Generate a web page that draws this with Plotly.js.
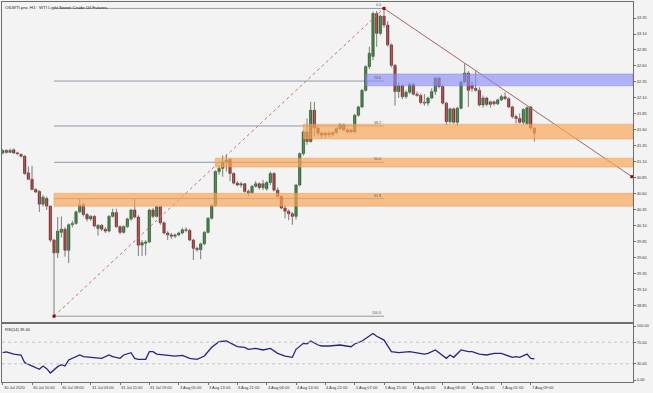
<!DOCTYPE html>
<html><head><meta charset="utf-8">
<script src="https://cdn.plot.ly/plotly-3.0.1.min.js"></script>
<style>html,body{margin:0;padding:0;background:#f3f3f3;}#chart{width:653px;height:393px;}</style>
</head><body><div id="chart"></div>
<script>
// ---- data ----
const openP = [41.24,41.28,41.25,41.29,41.24,41.22,41.19,40.93,40.83,40.67,40.64,40.44,40.53,40.41,39.88,39.68,40.00,40.05,39.72,40.12,40.14,40.32,40.43,40.28,40.21,40.25,40.06,40.11,40.05,40.02,40.25,40.31,40.09,40.00,40.09,40.21,40.35,40.24,39.80,39.83,39.85,40.35,40.25,40.40,40.15,39.99,39.96,39.94,39.96,39.99,40.04,40.03,39.88,39.75,39.73,39.82,40.00,40.22,40.42,40.95,41.00,41.10,41.14,40.92,40.77,40.74,40.76,40.64,40.62,40.72,40.76,40.70,40.68,40.78,40.92,40.66,40.56,40.38,40.33,40.29,40.25,40.74,41.23,41.57,41.42,41.91,41.63,41.55,41.52,41.55,41.53,41.56,41.62,41.68,41.60,41.60,41.57,41.83,41.96,42.22,42.59,42.75,43.42,43.11,43.38,43.24,42.93,42.61,42.20,42.29,42.12,42.19,42.31,42.16,42.14,42.03,42.02,42.10,42.20,42.41,42.28,42.02,41.73,41.93,41.72,41.94,42.35,42.49,42.30,42.25,42.22,41.99,42.10,42.00,42.04,42.01,42.07,42.12,42.09,41.96,41.81,41.78,41.72,41.70,41.96,41.63];
const highP = [41.30,41.30,41.31,41.31,41.26,41.23,41.21,41.03,41.04,40.69,40.66,40.58,40.56,40.42,39.90,40.24,40.25,40.08,40.14,40.18,40.34,40.52,40.46,40.30,40.27,40.27,40.13,40.13,40.08,40.27,40.37,40.37,40.11,40.11,40.23,40.37,40.52,40.27,39.88,39.88,40.37,40.38,40.42,40.41,40.17,40.02,39.99,39.98,40.01,40.07,40.08,40.06,39.90,39.78,39.84,40.02,40.24,40.44,40.97,41.05,41.20,41.22,41.16,40.94,40.80,40.79,40.77,40.67,40.74,40.80,40.78,40.82,40.80,40.95,40.94,40.70,40.58,40.42,40.36,40.32,40.76,41.25,41.59,41.78,42.04,42.04,41.66,41.58,41.57,41.58,41.58,41.64,41.71,41.70,41.63,41.62,41.85,41.98,42.24,42.61,42.90,43.45,43.46,43.40,43.50,43.30,42.95,42.63,42.34,42.31,42.22,42.34,42.34,42.20,42.17,42.16,42.12,42.25,42.43,42.43,42.30,42.04,41.95,41.95,41.96,42.37,42.64,42.52,42.36,42.52,42.27,42.14,42.12,42.06,42.06,42.09,42.15,42.19,42.11,41.98,41.84,41.86,41.94,41.97,41.97,41.64];
const lowP = [41.22,41.23,41.24,41.23,41.21,41.17,40.90,40.82,40.66,40.62,40.32,40.40,40.35,39.85,38.69,39.60,39.92,39.62,39.52,40.08,40.12,40.30,40.25,40.17,40.18,40.08,39.95,40.02,39.99,40.00,40.23,40.07,39.97,39.98,40.07,40.18,40.22,39.63,39.63,39.64,39.83,40.22,40.23,40.12,39.97,39.88,39.90,39.91,39.94,39.97,40.00,39.86,39.57,39.70,39.58,39.80,39.98,40.20,40.40,40.90,40.87,40.95,40.80,40.75,40.72,40.70,40.62,40.56,40.60,40.70,40.67,40.66,40.65,40.74,40.64,40.54,40.36,40.22,40.19,40.12,40.20,40.72,41.20,41.37,41.40,41.50,41.50,41.47,41.48,41.49,41.50,41.54,41.60,41.58,41.55,41.55,41.55,41.81,41.94,42.20,42.55,42.69,42.90,43.08,43.20,42.90,42.58,41.98,42.10,42.08,42.09,42.16,42.14,42.12,42.00,41.98,41.98,42.08,42.15,42.25,42.00,41.68,41.70,41.70,41.66,41.92,42.33,41.96,42.20,42.20,41.97,41.95,41.97,41.95,41.98,41.99,42.05,42.07,41.94,41.78,41.70,41.70,41.68,41.68,41.60,41.42];
const closeP = [41.28,41.25,41.28,41.24,41.23,41.19,40.92,40.83,40.67,40.63,40.44,40.55,40.41,39.88,39.68,40.02,40.05,39.72,40.12,40.14,40.32,40.43,40.28,40.21,40.25,40.10,40.11,40.05,40.02,40.25,40.31,40.09,40.00,40.09,40.21,40.35,40.24,39.80,39.84,39.85,40.35,40.25,40.40,40.15,39.99,39.96,39.94,39.96,39.99,40.04,40.03,39.88,39.75,39.73,39.82,40.00,40.22,40.42,40.95,41.00,41.10,41.13,40.92,40.77,40.74,40.76,40.64,40.62,40.72,40.76,40.70,40.76,40.78,40.92,40.66,40.56,40.38,40.33,40.29,40.25,40.74,41.23,41.57,41.42,41.91,41.63,41.55,41.52,41.55,41.53,41.56,41.62,41.68,41.60,41.57,41.57,41.83,41.96,42.22,42.59,42.80,43.42,43.11,43.38,43.24,42.93,42.61,42.20,42.29,42.12,42.19,42.31,42.16,42.14,42.03,42.02,42.10,42.20,42.41,42.28,42.02,41.73,41.93,41.72,41.94,42.35,42.49,42.22,42.25,42.22,41.99,42.10,42.00,42.04,42.01,42.07,42.12,42.09,41.96,41.81,41.78,41.72,41.92,41.95,41.63,41.55];

const rsiBars = [0,1,3,5,6,8,10,11,12,13,15,16,17,18,19,21,22,24,26,27,29,30,32,33,35,36,37,39,40,41,42,44,46,47,49,51,53,55,57,59,61,62,64,66,67,69,71,73,75,77,79,80,82,83,84,86,87,89,92,95,96,98,101,102,104,106,108,111,113,115,116,118,119,121,122,123,125,127,128,130,132,134,136,139,140,141,143,144,145];
const rsiVals = [50.6,51.9,48.1,46.3,32.1,25.9,19.8,25.9,21.0,13.0,24.7,28.4,25.9,37.0,40.0,46.3,43.2,42.0,40.1,40.1,46.3,43.2,40.1,46.3,50.6,40.1,38.3,38.3,52.5,52.5,48.1,46.3,44.4,44.4,45.7,40.1,38.3,44.4,60.5,71.0,72.2,69.1,61.7,60.5,56.8,58.6,55.6,58.6,49.4,44.4,42.0,56.8,67.9,67.0,72.2,64.8,63.0,63.0,64.8,61.7,66.7,72.2,86.0,81.0,74.0,52.5,50.6,52.5,50.6,48.1,49.4,55.6,50.6,40.1,46.3,42.0,55.6,52.5,52.5,48.1,46.3,49.4,49.4,42.0,43.2,42.0,48.1,40.1,39.4];

const tickBars = [0,8,16,24,32,40,48,56,64,72,80,88,96,104,112,120,128,136,144];
const tickLabels = ["30 Jul 2020","30 Jul 10:00","30 Jul 18:00","31 Jul 03:00","31 Jul 11:00","31 Jul 19:00","3 Aug 05:00","3 Aug 13:00","3 Aug 21:00","4 Aug 06:00","4 Aug 14:00","4 Aug 22:00","5 Aug 07:00","5 Aug 15:00","6 Aug 00:00","6 Aug 08:00","6 Aug 16:00","7 Aug 01:00","7 Aug 09:00"];
const priceTicks = [43.35,43.10,42.85,42.60,42.35,42.10,41.85,41.60,41.35,41.10,40.85,40.60,40.35,40.10,39.85,39.60,39.35,39.10,38.85];
const rsiTicks = [0,30,70,100];

// Fibonacci retracement (low bar -> high bar)
const fibLevels = [0.0,23.6,38.2,50.0,61.8,100.0];
const fibLowBar = 14, fibHighBar = 104;
const fibLow = 38.69, fibHigh = 43.50;
// zones [startBar, lowPrice, highPrice]
const blueZone = [99, 42.29, 42.475];
const orangeZones = [[82,41.46,41.69],[58,41.02,41.16],[14,40.41,40.61]];
// downtrend line
const trendBars = [104, 171.6];
const trendPrices = [43.50, 40.87];

// ---- build ----
const n = openP.length;
const idx = openP.map((_, i) => i);
const xMin = -0.19, xMax = 171.9;
const bodyBase = [], bodyH = [], bodyCol = [], bodyLine = [];
const wx = [], wy = [];
for (let i = 0; i < n; i++) {
  const o = openP[i], c = closeP[i];
  const up = c >= o;
  bodyBase.push(Math.min(o, c));
  bodyH.push(Math.max(Math.abs(c - o), 0.012));
  bodyCol.push(up ? '#197819' : '#a81818');
  bodyLine.push(up ? '#0f4a0f' : '#6a0e0e');
  wx.push(i, i, null); wy.push(lowP[i], highP[i], null);
}
const traces = [
  {type:'scatter', mode:'lines', x:wx, y:wy, line:{color:'#7a7a7a', width:1}, hoverinfo:'skip', xaxis:'x', yaxis:'y'},
  {type:'bar', x:idx, y:bodyH, base:bodyBase, width:0.66, marker:{color:bodyCol, line:{color:bodyLine, width:0.5}}, xaxis:'x', yaxis:'y'},
  {type:'scatter', mode:'lines', x:[fibLowBar, fibHighBar], y:[fibLow, fibHigh], line:{color:'#d06a6a', width:1, dash:'dot'}, xaxis:'x', yaxis:'y'},
  {type:'scatter', mode:'lines', x:trendBars, y:trendPrices, line:{color:'#a86464', width:1}, xaxis:'x', yaxis:'y'},
  {type:'scatter', mode:'markers', x:[fibLowBar, fibHighBar, trendBars[1]], y:[fibLow, fibHigh, trendPrices[1]], marker:{symbol:'square', size:3, color:'#990000'}, xaxis:'x', yaxis:'y'},
  {type:'scatter', mode:'lines', x:rsiBars, y:rsiVals, line:{color:'#262680', width:1.3}, xaxis:'x2', yaxis:'y2'}
];

const shapes = [];
const annotations = [];
const small = {family:'Liberation Sans, Arial, sans-serif', size:4, color:'#333'};
fibLevels.forEach(l => {
  const p = fibHigh - (fibHigh - fibLow) * l / 100;
  shapes.push({type:'line', xref:'x', yref:'y', x0:fibLowBar, x1:fibHighBar, y0:p, y1:p, line:{color:'#9298aa', width:1}, layer:'below'});
  annotations.push({xref:'x', yref:'y', x:fibHighBar, y:p, text:l.toFixed(1), showarrow:false, xanchor:'right', yanchor:'bottom', xshift:-1, yshift:-1, font:{family:small.family, size:3.6, color:'#555'}});
});
shapes.push({type:'rect', xref:'x', yref:'y', x0:blueZone[0], x1:xMax, y0:blueZone[1], y1:blueZone[2], fillcolor:'rgba(140,140,245,0.65)', line:{color:'rgba(120,120,220,0.5)', width:0.8}, layer:'above'});
orangeZones.forEach(z => {
  shapes.push({type:'rect', xref:'x', yref:'y', x0:z[0], x1:xMax, y0:z[1], y1:z[2], fillcolor:'rgba(250,165,85,0.68)', line:{color:'rgba(235,150,80,0.6)', width:0.8}, layer:'above'});
});
[30,70].forEach(v => shapes.push({type:'line', xref:'paper', yref:'y2', x0:0, x1:1, y0:v, y1:v, line:{color:'#c4c4c4', width:1, dash:'dot'}}));

tickBars.forEach((b, k) => annotations.push({xref:'x2', yref:'paper', x:b, y:0, text:tickLabels[k], showarrow:false, xanchor:'left', yanchor:'top', xshift:-1, yshift:-1, font:small}));
annotations.push({xref:'paper', yref:'paper', x:0, y:1, text:'OILWTI.pro, H1:  WTI Light Sweet Crude Oil Futures', showarrow:false, xanchor:'left', yanchor:'top', xshift:1, yshift:-1, font:{family:small.family, size:4.4, color:'#222'}});
annotations.push({xref:'paper', yref:'paper', x:0, y:0.1526, text:'RSI(14) 39.40', showarrow:false, xanchor:'left', yanchor:'top', xshift:1, yshift:-1, font:{family:small.family, size:4, color:'#222'}});

const axLine = '#6e6e6e';
const layout = {
  width:653, height:393,
  margin:{l:2, r:20, t:2, b:11},
  paper_bgcolor:'#f3f3f3', plot_bgcolor:'#f3f3f3',
  showlegend:false, barmode:'overlay', bargap:0,
  xaxis:{domain:[0,1], anchor:'y', range:[xMin, xMax], showticklabels:false, ticks:'', showgrid:false, zeroline:false, showline:true, mirror:true, linecolor:axLine, linewidth:1},
  xaxis2:{domain:[0,1], anchor:'y2', matches:'x', range:[xMin, xMax], tickvals:tickBars, ticks:'outside', ticklen:2, tickcolor:axLine, showticklabels:false, showgrid:false, zeroline:false, showline:true, mirror:true, linecolor:axLine, linewidth:1},
  yaxis:{domain:[0.158,1], anchor:'x', side:'right', range:[38.60, 43.60], tickvals:priceTicks, ticktext:priceTicks.map(v=>v.toFixed(2)), ticks:'outside', ticklen:2, tickcolor:axLine, tickfont:small, showgrid:false, zeroline:false, showline:true, mirror:true, linecolor:axLine, linewidth:1},
  yaxis2:{domain:[0,0.1526], anchor:'x2', side:'right', range:[-3.7, 103.7], tickvals:rsiTicks, ticktext:rsiTicks.map(v=>v.toFixed(2)), ticks:'outside', ticklen:2, tickcolor:axLine, tickfont:small, showgrid:false, zeroline:false, showline:true, mirror:true, linecolor:axLine, linewidth:1},
  shapes:shapes, annotations:annotations
};
Plotly.newPlot('chart', traces, layout, {staticPlot:true, displayModeBar:false});
</script></body></html>
